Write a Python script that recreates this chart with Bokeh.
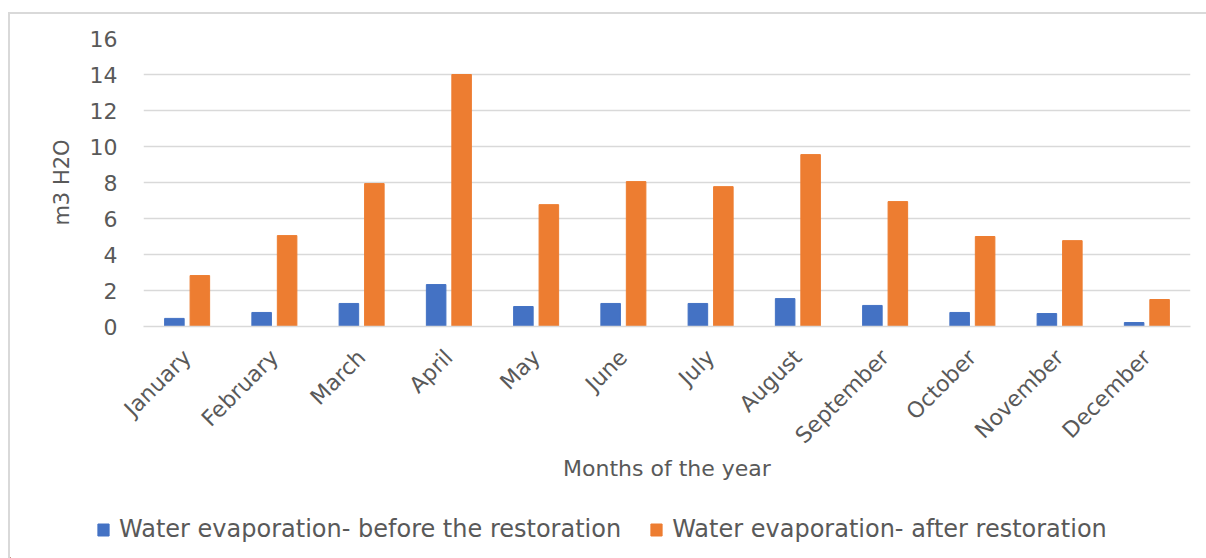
from bokeh.plotting import figure
from bokeh.layouts import column, row
from bokeh.models import ColumnDataSource, FactorRange, Range1d, FixedTicker, Legend, LegendItem
from bokeh.transform import dodge
from bokeh.embed import file_html
from bokeh.resources import INLINE

months = ["January", "February", "March", "April", "May", "June", "July",
          "August", "September", "October", "November", "December"]
before = [0.45, 0.78, 1.28, 2.33, 1.11, 1.28, 1.28, 1.55, 1.17, 0.78, 0.72, 0.22]
after = [2.83, 5.05, 7.94, 14.0, 6.77, 8.05, 7.77, 9.55, 6.94, 5.0, 4.77, 1.5]
y_ticks = [0, 2, 4, 6, 8, 10, 12, 14, 16]
series_names = ["Water evaporation- before the restoration",
                "Water evaporation- after restoration"]

FONT = "DejaVu Sans"
GREY = "#595959"
BLUE = "#4472C4"
ORANGE = "#ED7D31"
W = 1196

src = ColumnDataSource(dict(month=months, before=before, after=after))

p = figure(
    x_range=FactorRange(*months), y_range=Range1d(0, 16),
    width=W, height=480, output_backend="svg", toolbar_location=None,
    min_border_left=133, min_border_right=16, min_border_top=24, min_border_bottom=168,
)
p.outline_line_color = None
p.background_fill_color = "white"
p.border_fill_color = "white"

p.vbar(x=dodge("month", -0.146, range=p.x_range), top="before", width=0.224,
       source=src, color=BLUE)
p.vbar(x=dodge("month", 0.146, range=p.x_range), top="after", width=0.224,
       source=src, color=ORANGE)

# grid
p.xgrid.grid_line_color = None
p.ygrid.grid_line_color = "#d9d9d9"
p.ygrid.grid_line_width = 1.5

# y axis
p.yaxis.ticker = FixedTicker(ticks=y_ticks)
p.yaxis.axis_line_color = None
p.yaxis.major_tick_line_color = None
p.yaxis.minor_tick_line_color = None
p.yaxis.major_tick_out = 0
p.yaxis.major_label_standoff = 26
p.yaxis.major_label_text_font = FONT
p.yaxis.major_label_text_font_size = "22px"
p.yaxis.major_label_text_color = GREY
p.yaxis.axis_label = "m3 H2O"
p.yaxis.axis_label_text_font = FONT
p.yaxis.axis_label_text_font_size = "21px"
p.yaxis.axis_label_text_font_style = "normal"
p.yaxis.axis_label_text_color = GREY
p.yaxis.axis_label_standoff = 13

# x axis
p.xaxis.axis_line_color = "#d9d9d9"
p.xaxis.axis_line_width = 1.5
p.xaxis.major_tick_line_color = None
p.xaxis.major_tick_out = 0
p.xaxis.major_label_orientation = 0.785398
p.xaxis.major_label_standoff = 27
p.xaxis.major_label_text_font = FONT
p.xaxis.major_label_text_font_size = "22px"
p.xaxis.major_label_text_color = GREY
p.xaxis.axis_label = "Months of the year"
p.xaxis.axis_label_text_font = FONT
p.xaxis.axis_label_text_font_size = "22px"
p.xaxis.axis_label_text_font_style = "normal"
p.xaxis.axis_label_text_color = GREY
p.xaxis.axis_label_standoff = -4

# strip underneath the chart that carries the series legend
lp = figure(width=W, height=64, x_range=Range1d(0, W), y_range=Range1d(0, 64),
            output_backend="svg", toolbar_location=None,
            x_axis_type=None, y_axis_type=None, min_border=0)
lp.outline_line_color = None
lp.xgrid.visible = False
lp.ygrid.visible = False
# legend swatches only; the single key bar lies left of the visible range
k1 = lp.vbar(x=[-50], top=[1], width=1, color=BLUE)
k2 = lp.vbar(x=[-50], top=[1], width=1, color=ORANGE)

legend = Legend(
    items=[LegendItem(label=series_names[0], renderers=[k1]),
           LegendItem(label=series_names[1], renderers=[k2])],
    orientation="horizontal", location=(86, 15),
    glyph_width=14, glyph_height=15, label_standoff=9, spacing=28,
    label_text_font=FONT, label_text_font_size="24px", label_text_color=GREY,
    border_line_color=None, background_fill_alpha=0, padding=10, margin=0,
)
lp.add_layout(legend, "center")

page = column(p, row(lp), spacing=0, margin=(12, 0, 0, 8),
              styles={"border-top": "2px solid #d9d9d9", "border-left": "2px solid #d9d9d9"})

open("out.html", "w").write(file_html(page, INLINE))
